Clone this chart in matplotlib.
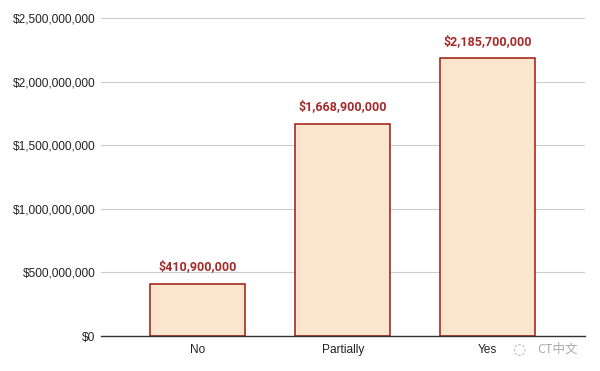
import matplotlib
matplotlib.use("Agg")
import matplotlib.pyplot as plt
from matplotlib.ticker import FuncFormatter

categories = ["No", "Partially", "Yes"]
values = [410900000, 1668900000, 2185700000]
yticks = [0, 500000000, 1000000000, 1500000000, 2000000000, 2500000000]

fill = "#fce5cd"
edge = "#9c1a10"
label_color = "#a52a2a"

fig = plt.figure(figsize=(6, 3.71), dpi=100)
ax = fig.add_axes([0.168, 0.0943, 0.807, 0.8572])

x = range(len(categories))
bars = ax.bar(x, values, width=0.655, color=fill, edgecolor=edge, linewidth=1.1, zorder=3)

for b, v in zip(bars, values):
    ax.text(b.get_x() + b.get_width() / 2, v + 80000000, "${:,.0f}".format(v),
            ha="center", va="bottom", color=label_color, fontsize=9,
            fontweight="bold", family="Roboto")

ax.set_xlim(-0.67, 2.67)
ax.set_ylim(0, 2500000000)
ax.set_yticks(yticks)
ax.yaxis.set_major_formatter(FuncFormatter(lambda v, p: "${:,.0f}".format(v)))
ax.set_xticks(list(x))
ax.set_xticklabels(categories)

for lab in ax.get_xticklabels() + ax.get_yticklabels():
    lab.set_family("Liberation Sans")
    lab.set_fontsize(8.6)
    lab.set_color("#222222")

ax.grid(axis="y", color="#cccccc", linewidth=0.8, zorder=0)
ax.tick_params(axis="y", length=0, pad=4)
ax.tick_params(axis="x", length=0, pad=6)
for s in ["top", "right", "left"]:
    ax.spines[s].set_visible(False)
ax.spines["bottom"].set_color("#333333")
ax.spines["bottom"].set_linewidth(1.0)
ax.spines["bottom"].set_zorder(4)

# watermark
fig.text(0.895, 0.058, "CT中文", color="#aaaaaa", fontsize=9,
         family=["Noto Sans CJK SC", "DejaVu Sans"], ha="left", va="center")
fig.text(0.865, 0.058, "\u25CC", color="#aaaaaa", fontsize=11,
         family="DejaVu Sans", ha="center", va="center")

fig.savefig("out.png", dpi=100)
